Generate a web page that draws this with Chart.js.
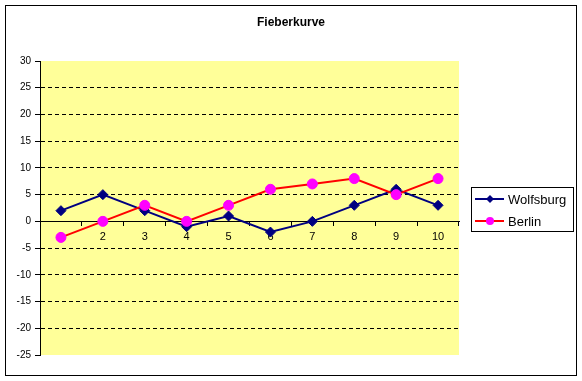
<!DOCTYPE html>
<html>
<head>
<meta charset="utf-8">
<script src="https://cdn.jsdelivr.net/npm/chart.js@4/dist/chart.umd.min.js"></script>
<style>
  html, body { margin: 0; padding: 0; background: #fff; }
  #wrap { width: 582px; height: 381px; }
</style>
</head>
<body>
<div id="wrap"><canvas id="chart" width="582" height="381"></canvas></div>
<script>
'use strict';

const categories = ['1', '2', '3', '4', '5', '6', '7', '8', '9', '10'];
const wolfsburg = [2, 5, 2, -1, 1, -2, 0, 3, 6, 3];
const berlin = [-3, 0, 3, 0, 3, 6, 7, 8, 5, 8];
const seriesNames = ['Wolfsburg', 'Berlin'];
const titleText = 'Fieberkurve';
const yMin = -25;
const yMax = 30;
const yStep = 5;

const NAVY = '#000080';
const RED = '#ff0000';
const MAGENTA = '#ff00ff';
const PLOT_BG = '#ffff99';
const FONT = "'Liberation Sans', Arial, sans-serif";

function drawMarker(ctx, style, x, y, r, color) {
  ctx.save();
  ctx.fillStyle = color;
  ctx.beginPath();
  if (style === 'rectRot') {
    ctx.moveTo(x - r, y); ctx.lineTo(x, y - r); ctx.lineTo(x + r, y); ctx.lineTo(x, y + r);
    ctx.closePath();
  } else {
    ctx.arc(x, y, r, 0, Math.PI * 2);
  }
  ctx.fill();
  ctx.restore();
}

const framePlugin = {
  id: 'frame',
  beforeDraw(chart) {
    const { ctx, chartArea: a } = chart;
    ctx.save();
    ctx.fillStyle = '#fff';
    ctx.fillRect(0, 0, chart.width, chart.height);
    ctx.fillStyle = PLOT_BG;
    ctx.fillRect(a.left, a.top, a.right - a.left, a.bottom - a.top);
    ctx.restore();
  },
  afterDraw(chart) {
    const ctx = chart.ctx;
    ctx.save();
    // outer border
    ctx.strokeStyle = '#000';
    ctx.lineWidth = 1;
    ctx.strokeRect(5.5, 5.5, 571, 370);
    // title
    ctx.fillStyle = '#000';
    ctx.font = 'bold 12px ' + FONT;
    ctx.textAlign = 'center';
    ctx.textBaseline = 'middle';
    ctx.fillText(titleText, 291, 23);
    // legend
    ctx.strokeRect(471.5, 187.5, 102, 44);
    const rows = [
      { name: seriesNames[0], line: NAVY, mark: NAVY, style: 'rectRot', y: 199 },
      { name: seriesNames[1], line: RED, mark: MAGENTA, style: 'circle', y: 221 }
    ];
    ctx.font = '13px ' + FONT;
    ctx.textAlign = 'left';
    rows.forEach(r => {
      ctx.strokeStyle = r.line;
      ctx.lineWidth = 2;
      ctx.beginPath();
      ctx.moveTo(475, r.y); ctx.lineTo(504, r.y);
      ctx.stroke();
      drawMarker(ctx, r.style, 490, r.y, 4, r.mark);
      ctx.fillStyle = '#000';
      ctx.fillText(r.name, 508, r.y + 1);
    });
    ctx.restore();
  }
};

new Chart(document.getElementById('chart').getContext('2d'), {
  type: 'line',
  data: {
    labels: categories,
    datasets: [
      {
        label: seriesNames[0], data: wolfsburg, order: 1,
        borderColor: NAVY, backgroundColor: NAVY, borderWidth: 2,
        pointStyle: 'rectRot', pointRadius: 5, pointBorderWidth: 1,
        pointBackgroundColor: NAVY, pointBorderColor: NAVY, tension: 0
      },
      {
        label: seriesNames[1], data: berlin, order: 0,
        borderColor: RED, backgroundColor: MAGENTA, borderWidth: 2,
        pointStyle: 'circle', pointRadius: 5, pointBorderWidth: 1,
        pointBackgroundColor: MAGENTA, pointBorderColor: MAGENTA, tension: 0
      }
    ]
  },
  options: {
    responsive: false,
    animation: false,
    layout: { padding: { top: 61, right: 123, bottom: 26, left: 0 } },
    plugins: { legend: { display: false }, title: { display: false }, tooltip: { enabled: false } },
    scales: {
      x: {
        type: 'category',
        offset: true,
        position: { y: 0 },
        grid: { display: true, drawOnChartArea: false, offset: true, tickLength: 4, tickColor: '#000', color: '#000' },
        border: { display: true, color: '#000', width: 1 },
        ticks: { color: '#000', font: { family: FONT, size: 11 }, padding: 5, maxRotation: 0, autoSkip: false }
      },
      y: {
        min: yMin,
        max: yMax,
        afterFit(scale) { scale.width = 40; },
        grid: {
          color: c => (c.tick && (c.tick.value === 0 || c.tick.value === yMax || c.tick.value === yMin)) ? 'rgba(0,0,0,0)' : '#000',
          tickColor: '#000',
          tickLength: 5,
          lineWidth: 1
        },
        border: { display: true, color: '#000', width: 1, dash: [4, 3] },
        ticks: { stepSize: yStep, color: '#000', font: { family: FONT, size: 10 }, padding: 4 }
      }
    }
  },
  plugins: [framePlugin]
});
</script>
</body>
</html>
